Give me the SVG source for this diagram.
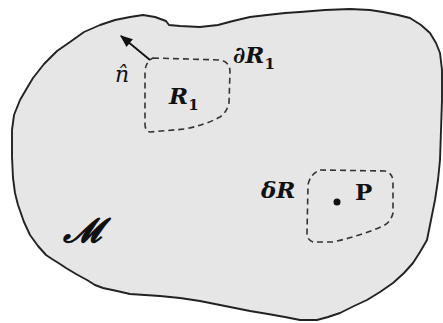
<svg xmlns="http://www.w3.org/2000/svg" width="443" height="323" viewBox="0 0 443 323">
<defs>
<style>
.region{fill:#e6e6e6;stroke:#222;stroke-width:1.9;stroke-linejoin:round}
.dash{fill:none;stroke:#333;stroke-width:1.6;stroke-dasharray:6 4}
.m{font-family:"DejaVu Serif","Liberation Serif",serif;font-weight:bold;font-style:italic;fill:#111}
.sub{font-size:15px;font-style:normal}
</style>
<marker id="ah" viewBox="0 0 10 10" refX="9" refY="5" markerWidth="7" markerHeight="7" orient="auto">
<path d="M0,1 L10,5 L0,9 Z" fill="#111"/>
</marker>
</defs>
<rect width="443" height="323" fill="#fff"/>
<g id="manifold">
<path class="region" d="M12,130 L14,115 L20,100 L27,88 L33,78 L44,64 L57,51 L70,42 L84,32 L100,25 L115,20 L130,17 L143,15 L155,17 L166,21 L169,25 L180,26 L200,27 L218,25 L233,21 L250,17 L267,15 L285,13 L300,12 L325,10 L350,9 L370,10 L383,12 L398,15 L410,18 L421,25 L430,33 L436,43 L440,53 L442,70 L442,100 L441,130 L440,160 L438,180 L435,200 L431,220 L427,240 L420,252 L413,263 L404,273 L393,283 L380,292 L367,300 L354,306 L340,313 L328,317 L317,320 L300,320 L285,317 L268,314 L250,311 L235,308 L220,305 L200,301 L180,298 L160,296 L145,295 L130,294 L117,291 L103,288 L95,285 L87,280 L76,274 L66,268 L60,264 L52,259 L46,255 L38,246 L30,235 L24,222 L18,205 L15,193 L13,178 L12,157 Z"/>
<text class="m" x="63" y="242" font-size="34">𝓜</text>
</g>
<g id="R1">
<path class="dash" d="M153,58 L220,60 Q230,62 230,72 L229,103 Q227,112 220,117 Q205,125 185,129 L150,132 Q145,131 145,124 L145,73 Q145,62 153,58 Z"/>
<text class="m" x="169" y="104" font-size="23">R<tspan class="sub" dy="6">1</tspan></text>
</g>
<g id="dR1">
<text class="m" x="233" y="63" font-size="23">∂R<tspan class="sub" dy="6">1</tspan></text>
</g>
<g id="nhat">
<text x="115" y="82" font-family="DejaVu Serif,Liberation Serif,serif" font-style="italic" font-size="22" fill="#111">n̂</text>
</g>
<g id="deltaR">
<path class="dash" d="M320,170 L385,171 Q393,173 393,182 L393,213 Q391,222 383,226 Q360,236 333,242 L313,242 Q307,240 307,233 L308,185 Q310,174 320,170 Z"/>
<circle cx="337" cy="202" r="3.5" fill="#111"/>
<text x="355" y="200" font-family="DejaVu Serif,Liberation Serif,serif" font-weight="bold" font-size="23" fill="#111">P</text>
<text class="m" x="261" y="198" font-size="23">δR</text>
</g>
<g id="connectors">
<line x1="150" y1="60" x2="121" y2="36" stroke="#111" stroke-width="1.8" marker-end="url(#ah)"/>
</g>
</svg>
